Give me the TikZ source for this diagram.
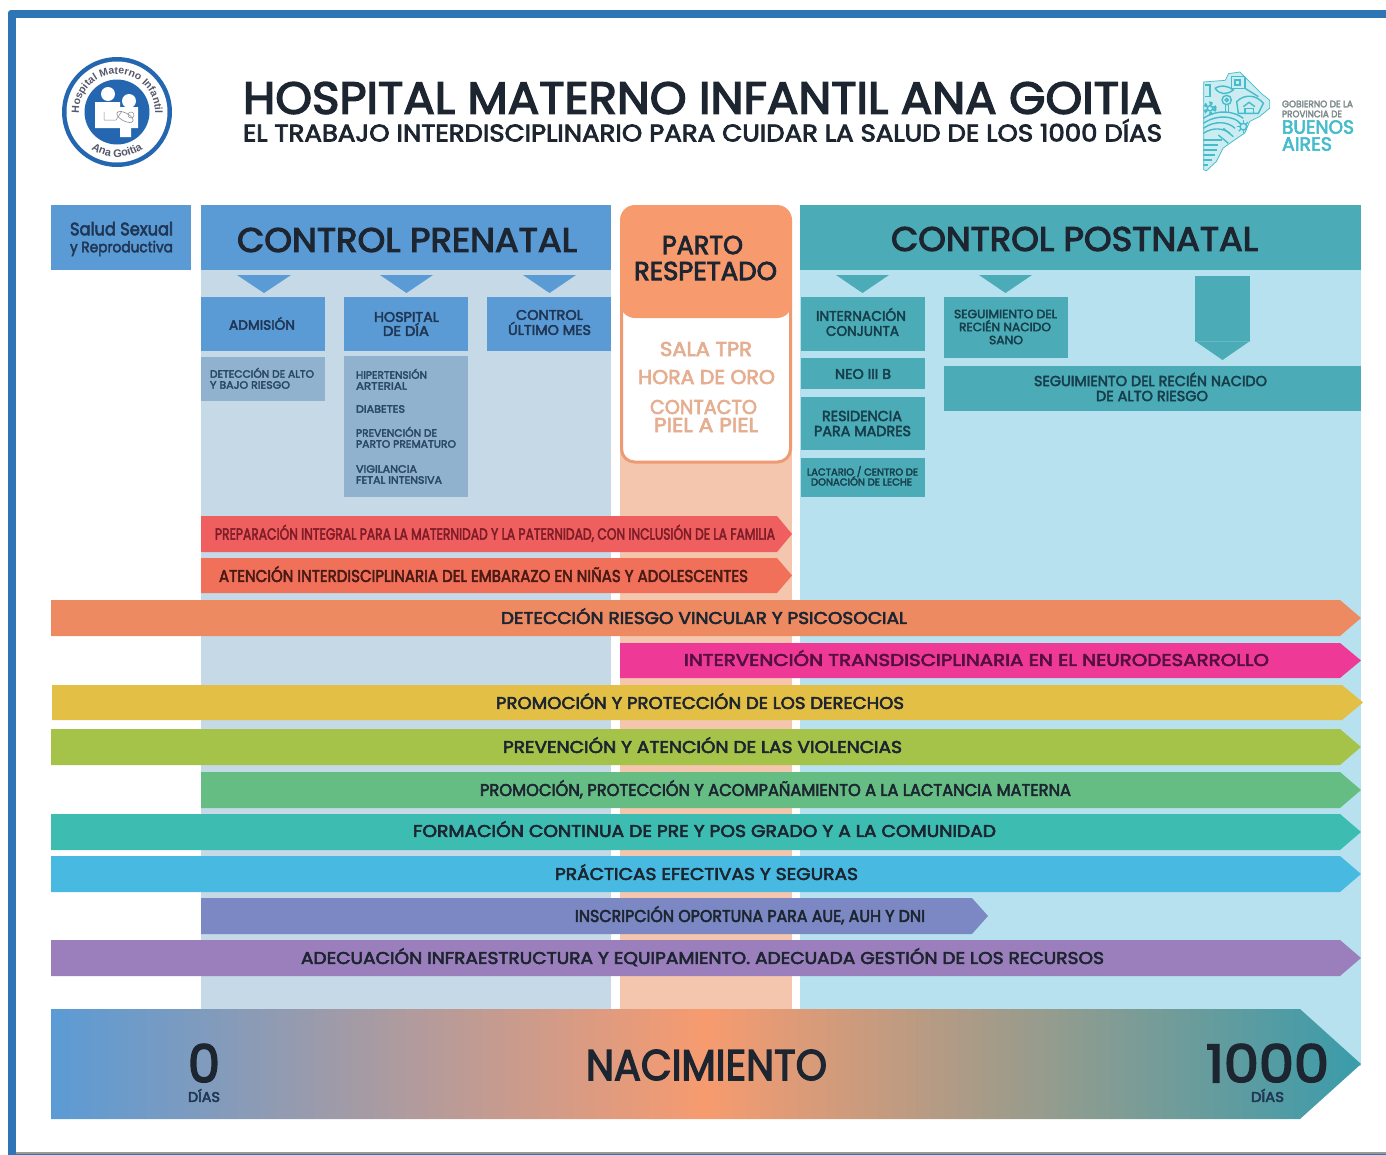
\documentclass[tikz,border=0pt]{standalone}
\usepackage{fontspec}
\usepackage{graphicx}
\usetikzlibrary{decorations.text}
\setmainfont{Poppins}
\newfontfamily\mdfont{Poppins}[FakeBold=3.2]
\newfontfamily\logofont{Liberation Sans}
\definecolor{frameblue}{HTML}{2E75B6}
\definecolor{headblue}{HTML}{5B9BD5}
\definecolor{preBg}{HTML}{C5D9E6}
\definecolor{subblue}{HTML}{90B2CF}
\definecolor{partoBg}{HTML}{F4C6AE}
\definecolor{partoHead}{HTML}{F79B6F}
\definecolor{partoLine}{HTML}{EE9A73}
\definecolor{partoText}{HTML}{E6AE90}
\definecolor{headteal}{HTML}{4BACB8}
\definecolor{postBg}{HTML}{B7E1EE}
\definecolor{ink}{HTML}{1C2530}
\definecolor{navy}{HTML}{1F3655}
\definecolor{navyb}{HTML}{2B4768}
\definecolor{tealink}{HTML}{173F4B}
\definecolor{logoblue}{HTML}{2467B0}
\definecolor{logotext}{HTML}{55586A}
\definecolor{provteal}{HTML}{45BCCB}
\definecolor{provgray}{HTML}{7E8A8C}
\definecolor{bandred}{HTML}{EF5F5F}
\definecolor{bandsalmon}{HTML}{F1705A}
\definecolor{bandorange}{HTML}{EE8A62}
\definecolor{bandpink}{HTML}{EE3A96}
\definecolor{bandyellow}{HTML}{E3BF45}
\definecolor{bandlime}{HTML}{A4C348}
\definecolor{bandgreen}{HTML}{66BD84}
\definecolor{bandteal}{HTML}{3DBCB2}
\definecolor{bandsky}{HTML}{48B9E0}
\definecolor{bandindigo}{HTML}{7B88C4}
\definecolor{bandpurple}{HTML}{9B7FBC}
\definecolor{nacEnd}{HTML}{3A9CAB}
\definecolor{redink}{HTML}{7E1C28}
\definecolor{salmonink}{HTML}{4A1A15}
\definecolor{pinkink}{HTML}{55103F}
\tikzset{
  lbl/.style={anchor=base,inner sep=0pt,outer sep=0pt}
}
% name, x1, x2, y centre, font size, colour, text
\newcommand\lab[7]{%
  \pgfmathsetlengthmacro\labw{(#3)-(#2)}%
  \pgfmathsetmacro\labx{(#2+#3)/2}%
  \pgfmathsetmacro\laby{#4+0.35*#5}%
  \node[lbl,text=#6] (#1) at (\labx,\laby) {\resizebox{\labw}{\height}{\mdfont\fontsize{#5}{#5}\selectfont #7}};%
}
% x1, x2, y1, y2, tip length, colour
\newcommand\band[6]{%
  \pgfmathsetmacro\bandm{(#3+#4)/2}%
  \pgfmathsetmacro\bands{#2-#5}%
  \fill[#6] (#1,#3) -- (\bands,#3) -- (#2,\bandm) -- (\bands,#4) -- (#1,#4) -- cycle;%
}
\newcommand\downtri[5]{%
  \pgfmathsetmacro\trim{(#1+#2)/2}%
  \fill[#5] (#1,#3) -- (#2,#3) -- (\trim,#4) -- cycle;%
}
\newcommand\provshape{(25,50) -- (90,45) -- (100,25) -- (135,20) -- (165,50) -- (200,85) -- (225,105) -- (225,130) -- (195,155) -- (165,170) -- (150,205) -- (120,225) -- (85,250) -- (65,290) -- (35,318) -- (25,315) -- cycle}
\begin{document}
\begin{tikzpicture}[x=1pt,y=-1pt]
\useasboundingbox (0,0) rectangle (1386,1154);
\fill[white] (0,0) rectangle (1386,1154);
% frame
\fill[frameblue,rounded corners=3pt] (8,10) -- (1396,10) -- (1396,1164) -- (8,1164) -- cycle;
\fill[white] (16,18) rectangle (1386,1152);
\fill[gray!80] (16,1152) rectangle (1386,1154);
% hospital logo
\fill[logoblue] (117,112) circle[radius=55];
\fill[white] (117,112) circle[radius=50.5];
\fill[logoblue] (117,112) circle[radius=32.5];
\fill[white] (108,94) circle[radius=7];
\fill[white] (129,101) circle[radius=7];
\fill[white] (95,102) -- (120,102) -- (120,107) -- (138,107) -- (138,128) -- (131,128) -- (131,137) -- (120,137) -- (120,128) -- (95,128) -- cycle;
\draw[logotext!70,line width=.5pt] (104,112) -- (104,120) -- (116,120) -- (122,111);
\draw[logotext!70,line width=.6pt,rotate around={-28:(125,117)}] (125,117) ellipse[x radius=9,y radius=4];
\draw[logotext!70,line width=.5pt] (131,115) circle[radius=3];
\path[decorate,decoration={text along path,text align=center,
  text={|\logofont\bfseries\fontsize{10.5}{10.5}\selectfont\color{logotext}|Hospital Materno Infantil}}]
  (117,112) ++(176:38) arc[start angle=176,end angle=364,radius=38];
\path[decorate,decoration={text along path,text align=center,
  text={|\logofont\bfseries\fontsize{11}{11}\selectfont\color{logotext}|Ana Goitia}}]
  (117,112) ++(140:45) arc[start angle=140,end angle=40,radius=45];
% province logo
\begin{scope}[shift={(1195pt,-65pt)},x=.3333pt,y=-.3333pt]
  \fill[provteal!28] \provshape;
  \clip \provshape;
  \begin{scope}[provteal,line width=1.4pt]
    \draw[line width=1.4pt] \provshape;
    \draw (95,105) circle[radius=14];
    \draw (95,105) circle[radius=5];
    \draw (92,120) -- (92,145) (100,120) -- (100,145);
    \draw[line width=3pt,dash pattern=on 3pt off 3pt] (45,130) circle[radius=16];
    \draw (45,130) circle[radius=8];
    \draw (25,160) .. controls (70,130) and (120,140) .. (145,160);
    \draw (25,175) .. controls (70,145) and (120,155) .. (135,175);
    \draw (25,190) .. controls (60,165) and (100,170) .. (120,190);
    \draw (25,205) .. controls (55,185) and (85,190) .. (105,205);
    \draw (25,225) -- (80,225) (25,240) -- (70,240) (25,255) -- (65,255) (25,270) -- (60,270) (25,285) -- (50,285) (25,300) -- (40,300);
    \draw (145,185) circle[radius=10];
    \foreach \a in {0,45,...,315} {\draw (145,185) ++(\a:10) -- ++(\a:9);}
    \draw (125,110) .. controls (150,85) and (185,90) .. (205,115) -- (190,145) -- (130,145) -- cycle;
    \draw (150,130) rectangle (175,145);
    \draw (145,125) -- (162,112) -- (180,125);
    \draw (60,70) .. controls (75,60) and (95,60) .. (115,75) .. controls (95,90) and (75,90) .. (60,70);
    \draw (110,35) rectangle (150,70);
    \draw (120,45) rectangle (135,60);
    \draw (30,60) -- (45,60) -- (45,95) -- (30,95);
    \draw (150,70) -- (190,95);
    \draw (85,190) -- (115,215) (70,210) -- (100,235);
  \end{scope}
\end{scope}
\lab{gob}{1282}{1353}{104}{9.5}{provgray}{GOBIERNO DE LA}
\lab{prov}{1282}{1342}{114}{9.5}{provgray}{PROVINCIA DE}
\lab{bue}{1282}{1354}{127}{19}{provteal}{BUENOS}
\lab{aires}{1282}{1332}{144}{19}{provteal}{AIRES}
% titles
\lab{title}{243}{1162}{98}{45}{ink}{HOSPITAL MATERNO INFANTIL ANA GOITIA}
\lab{subtitle}{243}{1162}{133}{24}{ink}{EL TRABAJO INTERDISCIPLINARIO PARA CUIDAR LA SALUD DE LOS 1000 DÍAS}
% column backgrounds
\fill[preBg] (201,205) rectangle (611,1012);
\fill[partoBg] (620,300) rectangle (792,1012);
\fill[postBg] (800,205) rectangle (1361,1066);
% headers
\fill[headblue] (51,205) rectangle (191,270);
\fill[headblue] (201,205) rectangle (611,270);
\fill[headteal] (800,205) rectangle (1361,270);
\lab{salud}{70}{173}{229}{18}{navy}{Salud Sexual}
\lab{repro}{70}{173}{247}{15}{navy}{y Reproductiva}
\lab{prenatal}{237}{577}{240}{34}{ink}{CONTROL PRENATAL}
\lab{postnatal}{891}{1258}{239}{34}{ink}{CONTROL POSTNATAL}
% parto
\draw[partoLine,line width=3pt,fill=white,rounded corners=13pt] (621.5,290) rectangle (790.5,462);
\fill[partoHead,rounded corners=15pt] (620,205) rectangle (792,318);
\lab{parto}{662}{743}{245}{26}{ink}{PARTO}
\lab{respetado}{634}{777}{271}{26}{ink}{RESPETADO}
\lab{sala}{660}{752}{349}{20}{partoText}{SALA TPR}
\lab{hora}{638}{775}{377}{20}{partoText}{HORA DE ORO}
\lab{contacto}{650}{757}{407}{20}{partoText}{CONTACTO}
\lab{piel}{654}{758}{425}{20}{partoText}{PIEL A PIEL}
% prenatal
\downtri{237}{291}{275}{293}{headblue}
\downtri{380}{433}{275}{293}{headblue}
\downtri{523}{576}{275}{293}{headblue}
\fill[headblue] (201,297) rectangle (325,351);
\fill[headblue] (344,297) rectangle (468,351);
\fill[headblue] (487,297) rectangle (611,351);
\fill[subblue] (201,357) rectangle (325,401);
\fill[subblue] (344,356) rectangle (468,497);
\lab{admision}{229}{295}{325}{13.5}{navy}{ADMISIÓN}
\lab{hospital}{374}{439}{317}{14}{navy}{HOSPITAL}
\lab{dedia}{383}{429}{331}{14}{navy}{DE DÍA}
\lab{control}{516}{583}{315}{14}{navy}{CONTROL}
\lab{ultimo}{508}{591}{330}{14}{navy}{ÚLTIMO MES}
\lab{deteccion}{210}{314}{374}{10.5}{navyb}{DETECCIÓN DE ALTO}
\lab{bajo}{210}{290}{385}{10.5}{navyb}{Y BAJO RIESGO}
\lab{hiper}{356}{427}{375}{10.5}{navyb}{HIPERTENSIÓN}
\lab{arterial}{356}{407}{386}{10.5}{navyb}{ARTERIAL}
\lab{diabetes}{356}{405}{409}{10.5}{navyb}{DIABETES}
\lab{prev}{356}{437}{433}{10.5}{navyb}{PREVENCIÓN DE}
\lab{prema}{356}{456}{444}{10.5}{navyb}{PARTO PREMATURO}
\lab{vigi}{356}{417}{469}{10.5}{navyb}{VIGILANCIA}
\lab{fetal}{356}{442}{480}{10.5}{navyb}{FETAL INTENSIVA}
% postnatal
\downtri{836}{889}{275}{293}{headteal}
\downtri{979}{1032}{275}{293}{headteal}
\fill[headteal] (1195,276) rectangle (1250,341);
\fill[headteal] (1195,341) -- (1250,341) -- (1222.5,360) -- cycle;
\draw[headteal!85!white,line width=.5pt] (1195,341) -- (1250,341);
\fill[headteal] (801,297) rectangle (925,351);
\fill[headteal] (944,297) rectangle (1068,358);
\fill[headteal] (801,358) rectangle (925,389);
\fill[headteal] (801,397) rectangle (925,450);
\fill[headteal] (801,458) rectangle (925,497);
\fill[headteal] (944,366) rectangle (1361,411);
\lab{intern}{816}{906}{316}{14}{tealink}{INTERNACIÓN}
\lab{conj}{826}{899}{331}{14}{tealink}{CONJUNTA}
\lab{seg}{954}{1057}{314}{12}{tealink}{SEGUIMIENTO DEL}
\lab{rec}{959}{1051}{327}{12}{tealink}{RECIÉN NACIDO}
\lab{sano}{989}{1023}{340}{12}{tealink}{SANO}
\lab{neo}{835}{891}{374}{14}{tealink}{NEO III B}
\lab{resi}{822}{902}{416}{14.5}{tealink}{RESIDENCIA}
\lab{madres}{814}{911}{431}{14.5}{tealink}{PARA MADRES}
\lab{lact}{807}{918}{472}{10}{tealink}{LACTARIO / CENTRO DE}
\lab{dona}{811}{912}{482}{10}{tealink}{DONACIÓN DE LECHE}
\lab{segalto}{1034}{1267}{381}{14.5}{tealink}{SEGUIMIENTO DEL RECIÉN NACIDO}
\lab{alto}{1096}{1208}{396}{14.5}{tealink}{DE ALTO RIESGO}
% horizontal bands
\band{201}{792}{516}{552}{15}{bandred}
\band{201}{792}{558}{593}{15}{bandsalmon}
\band{51}{1361}{600}{636}{21}{bandorange}
\band{620}{1361}{643}{678}{21}{bandpink}
\band{52}{1363}{685}{720}{21}{bandyellow}
\band{51}{1361}{729}{765}{21}{bandlime}
\band{201}{1361}{772}{808}{21}{bandgreen}
\band{51}{1361}{814}{850}{21}{bandteal}
\band{51}{1361}{856}{892}{21}{bandsky}
\band{201}{988}{898}{934}{16}{bandindigo}
\band{51}{1361}{940}{976}{21}{bandpurple}
\lab{b1}{215}{775}{534}{16}{redink}{PREPARACIÓN INTEGRAL PARA LA MATERNIDAD Y LA PATERNIDAD, CON INCLUSIÓN  DE LA FAMILIA}
\lab{b2}{219}{748}{576}{17}{salmonink}{ATENCIÓN INTERDISCIPLINARIA DEL EMBARAZO EN NIÑAS Y ADOLESCENTES}
\lab{b3}{501}{907}{618}{17}{ink}{DETECCIÓN RIESGO VINCULAR Y PSICOSOCIAL}
\lab{b4}{684}{1269}{660}{17}{pinkink}{INTERVENCIÓN TRANSDISCIPLINARIA EN EL NEURODESARROLLO}
\lab{b5}{496}{904}{703}{17}{ink}{PROMOCIÓN Y PROTECCIÓN DE LOS DERECHOS}
\lab{b6}{503}{902}{747}{17}{ink}{PREVENCIÓN Y ATENCIÓN DE LAS VIOLENCIAS}
\lab{b7}{480}{1071}{790}{17}{ink}{PROMOCIÓN, PROTECCIÓN Y ACOMPAÑAMIENTO A LA LACTANCIA MATERNA}
\lab{b8}{413}{996}{831}{17}{ink}{FORMACIÓN CONTINUA DE PRE Y POS GRADO Y A LA COMUNIDAD}
\lab{b9}{555}{858}{874}{17}{ink}{PRÁCTICAS EFECTIVAS Y SEGURAS}
\lab{b10}{575}{925}{916}{17}{ink}{INSCRIPCIÓN OPORTUNA PARA  AUE, AUH Y DNI}
\lab{b11}{301}{1104}{958}{17}{ink}{ADECUACIÓN INFRAESTRUCTURA Y EQUIPAMIENTO. ADECUADA GESTIÓN DE LOS RECURSOS}
% timeline
\shade[left color=headblue,right color=nacEnd,middle color=partoHead] (51,1009) -- (1300,1009) -- (1361,1064) -- (1300,1119) -- (51,1119) -- cycle;
\lab{cero}{188}{220}{1064}{52}{ink}{0}
\lab{dias0}{188}{220}{1097}{14}{navy}{DÍAS}
\lab{nac}{586}{827}{1065}{43}{ink}{NACIMIENTO}
\lab{mil}{1206}{1329}{1064}{52}{ink}{1000}
\lab{dias1}{1251}{1284}{1097}{14}{navy}{DÍAS}
\end{tikzpicture}
\end{document}
